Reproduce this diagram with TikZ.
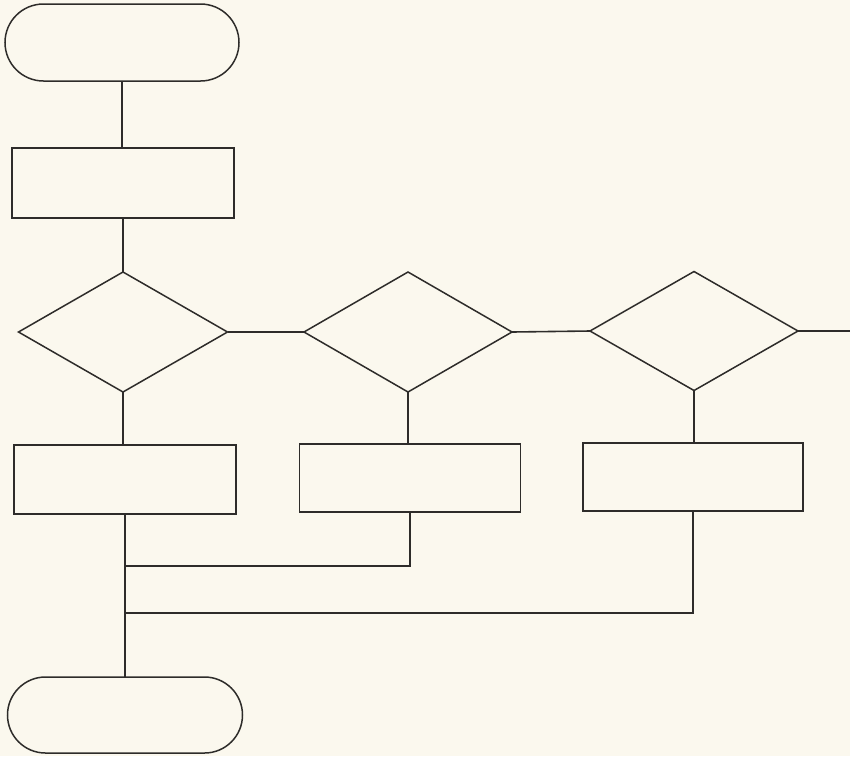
\documentclass[tikz,border=0pt]{standalone}
\usetikzlibrary{shapes.geometric,shapes.misc}
\definecolor{paper}{HTML}{FBF8EE}
\definecolor{ink}{HTML}{2E2C2A}
\begin{document}
\begin{tikzpicture}[x=1pt,y=-1pt,
  every node/.style={draw=ink,line width=1.5pt,inner sep=0pt,outer sep=0pt},
  term/.style={rounded rectangle},
  proc/.style={rectangle},
  dec/.style={diamond},
  conn/.style={draw=ink,line width=1.6pt}]
\fill[paper] (0,0) rectangle (850,756);
\useasboundingbox (0,0) rectangle (850,756);
\node[term,minimum width=234pt,minimum height=77pt] (t1) at (122,42.5) {};
\node[proc,minimum width=222pt,minimum height=70pt] (r1) at (123,183) {};
\node[dec,minimum width=209pt,minimum height=120pt] (d1) at (123,332) {};
\node[dec,minimum width=208pt,minimum height=120pt] (d2) at (408,332) {};
\node[dec,minimum width=208pt,minimum height=119pt] (d3) at (694,331) {};
\node[proc,minimum width=222pt,minimum height=69pt] (ra) at (125,479.5) {};
\node[proc,minimum width=221pt,minimum height=68pt] (rb) at (410,478) {};
\node[proc,minimum width=220pt,minimum height=68pt] (rc) at (693,477) {};
\node[term,minimum width=235pt,minimum height=76pt] (t2) at (125,715) {};
\coordinate (j1) at (125,566);
\coordinate (j2) at (125,613);
\coordinate (out) at (850,331);
\draw[conn] (t1.south) -- (t1.south |- r1.north);
\draw[conn] (r1.south) -- (r1.south |- d1.north);
\draw[conn] (d1.east) -- (d2.west);
\draw[conn] (d2.east) -- (d3.west);
\draw[conn] (d3.east) -- (out);
\draw[conn] (d1.south) -- (d1.south |- ra.north);
\draw[conn] (d2.south) -- (d2.south |- rb.north);
\draw[conn] (d3.south) -- (d3.south |- rc.north);
\draw[conn] (ra.south) -- (t2.north);
\draw[conn] (rb.south) |- (j1);
\draw[conn] (rc.south) |- (j2);
\end{tikzpicture}
\end{document}
